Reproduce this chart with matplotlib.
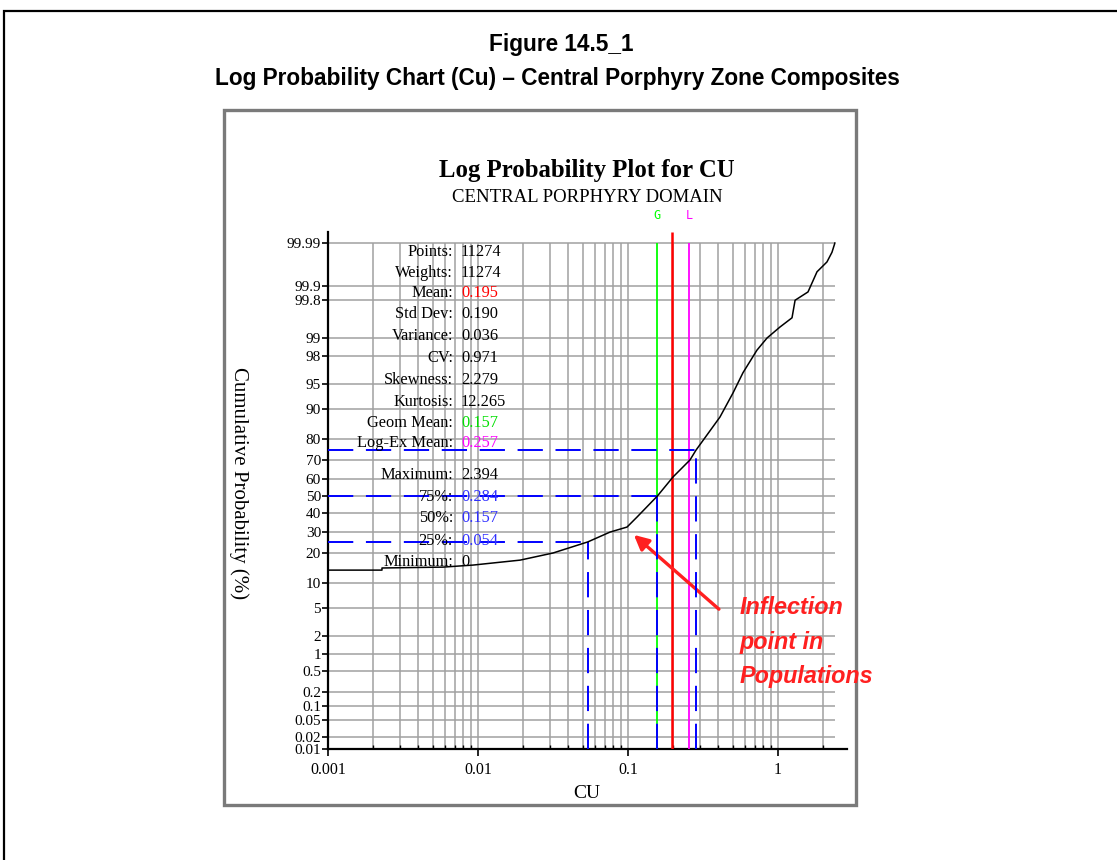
import math
import numpy as np
import matplotlib
matplotlib.use("Agg")
import matplotlib.pyplot as plt
from matplotlib.patches import Rectangle
from matplotlib.ticker import FixedLocator, FixedFormatter, NullLocator, LogLocator, NullFormatter

# curve: CU grade vs cumulative probability (%)
cu = [0.001, 0.00229, 0.00229, 0.00585, 0.00927, 0.0191, 0.0316, 0.054, 0.0759,
      0.0985, 0.115, 0.157, 0.1995, 0.259, 0.284, 0.410, 0.501, 0.584, 0.724,
      0.845, 1.03, 1.24, 1.30, 1.585, 1.82, 2.12, 2.29, 2.394]
prob = [13.8, 13.8, 14.5, 14.8, 15.5, 17.3, 20.1, 25.0, 29.8,
        32.4, 37.9, 50.0, 61.0, 70.2, 75.0, 87.7, 93.5, 96.5, 98.4,
        98.99, 99.35, 99.56, 99.80, 99.865, 99.951, 99.971, 99.983, 99.99]

mean_cu = 0.195
geom_mean = 0.157
logex_mean = 0.257
pct_levels = [75, 50, 25]
pct_values = [0.284, 0.157, 0.054]
max_cu = 2.394

y_ticks = [0.01, 0.02, 0.05, 0.1, 0.2, 0.5, 1, 2, 5, 10, 20, 30, 40, 50, 60, 70,
           80, 90, 95, 98, 99, 99.8, 99.9, 99.99]
y_labels = ["0.01", "0.02", "0.05", "0.1", "0.2", "0.5", "1", "2", "5", "10", "20",
            "30", "40", "50", "60", "70", "80", "90", "95", "98", "99", "99.8",
            "99.9", "99.99"]
x_ticks = [0.001, 0.01, 0.1, 1]
x_labels = ["0.001", "0.01", "0.1", "1"]

stat_names = ["Points:", "Weights:", "Mean:", "Std Dev:", "Variance:", "CV:",
              "Skewness:", "Kurtosis:", "Geom Mean:", "Log-Ex Mean:", "Maximum:",
              "75%:", "50%:", "25%:", "Minimum:"]
stat_values = ["11274", "11274", "0.195", "0.190", "0.036", "0.971", "2.279",
               "12.265", "0.157", "0.257", "2.394", "0.284", "0.157", "0.054", "0"]
stat_colors = ["black", "black", "#ff0000", "black", "black", "black", "black",
               "black", "#00e000", "#ff00ff", "black", "#3030ff", "#3030ff",
               "#3030ff", "black"]
stat_rows_px = [252, 273, 293, 314, 336, 358, 380, 402, 423, 443, 475, 497, 518, 541, 562]


def norm_ppf(p):
    p = np.clip(np.asarray(p, dtype=float), 1e-9, 1 - 1e-9)
    a = [-3.969683028665376e+01, 2.209460984245205e+02, -2.759285104469687e+02,
         1.383577518672690e+02, -3.066479806614716e+01, 2.506628277459239e+00]
    b = [-5.447609879822406e+01, 1.615858368580409e+02, -1.556989798598866e+02,
         6.680131188771972e+01, -1.328068155288572e+01]
    c = [-7.784894002430293e-03, -3.223964580411365e-01, -2.400758277161838e+00,
         -2.549732539343734e+00, 4.374664141464968e+00, 2.938163982698783e+00]
    d = [7.784695709041462e-03, 3.224671290700398e-01, 2.445134137142996e+00,
         3.754408661907416e+00]
    plow = 0.02425
    out = np.empty_like(p)
    lo = p < plow
    hi = p > 1 - plow
    mid = ~(lo | hi)
    q = np.sqrt(-2 * np.log(p[lo]))
    out[lo] = (((((c[0]*q+c[1])*q+c[2])*q+c[3])*q+c[4])*q+c[5]) / ((((d[0]*q+d[1])*q+d[2])*q+d[3])*q+1)
    q = p[mid] - 0.5
    r = q * q
    out[mid] = (((((a[0]*r+a[1])*r+a[2])*r+a[3])*r+a[4])*r+a[5])*q / (((((b[0]*r+b[1])*r+b[2])*r+b[3])*r+b[4])*r+1)
    q = np.sqrt(-2 * np.log(1 - p[hi]))
    out[hi] = -(((((c[0]*q+c[1])*q+c[2])*q+c[3])*q+c[4])*q+c[5]) / ((((d[0]*q+d[1])*q+d[2])*q+d[3])*q+1)
    return out


_erf = np.frompyfunc(math.erf, 1, 1)


def forward(y):
    return norm_ppf(np.asarray(y, dtype=float) / 100.0)


def inverse(z):
    z = np.asarray(z, dtype=float)
    return 50.0 * (1.0 + _erf(z / math.sqrt(2)).astype(float))


W, H = 1117, 860
fig = plt.figure(figsize=(W / 100, H / 100), dpi=100)


def fx(px):
    return px / W


def fy(py):
    return 1 - py / H


# outer page frame and the inner chart box
fig.patches.append(Rectangle((fx(4), -0.2), 2, fy(11) + 0.2, transform=fig.transFigure,
                             fill=False, edgecolor="black", lw=1.6))
fig.patches.append(Rectangle((fx(224), fy(805)), fx(856) - fx(224), fy(110) - fy(805),
                             transform=fig.transFigure, fill=False, edgecolor="#7a7a7a", lw=2.4))

fig.text(fx(561), fy(45), "Figure 14.5_1", ha="center", va="center",
         fontsize=16.3, fontweight="bold", family="Liberation Sans")
fig.text(fx(557), fy(78), "Log Probability Chart (Cu) \u2013 Central Porphyry Zone Composites",
         ha="center", va="center", fontsize=16.3, fontweight="bold", family="Liberation Sans")

serif = "Liberation Serif"
fig.text(fx(587), fy(170), "Log Probability Plot for CU", ha="center", va="center",
         fontsize=17.8, fontweight="bold", family=serif)
fig.text(fx(587), fy(198), "CENTRAL PORPHYRY DOMAIN", ha="center", va="center",
         fontsize=13.5, family=serif)

xmax = 10 ** ((847 - 328) / 150 - 3)
ytop = 99.9948
ax = fig.add_axes([fx(328), fy(749), fx(847) - fx(328), fy(232) - fy(749)])
ax.set_xscale("log")
ax.set_yscale("function", functions=(forward, inverse))
ax.set_xlim(0.001, xmax)
ax.set_ylim(0.01, ytop)

# grid drawn by hand so it stops at the data range
grid_x = [m * 10.0 ** e for e in range(-3, 0) for m in range(1, 10)] + [1, 2]
ax.vlines(grid_x, 0.01, 99.99, colors="#a0a0a0", lw=1.1, zorder=1)
ax.hlines(y_ticks, 0.001, max_cu, colors="#a0a0a0", lw=1.1, zorder=1)

for s in ["top", "right"]:
    ax.spines[s].set_visible(False)
for s in ["left", "bottom"]:
    ax.spines[s].set_linewidth(1.6)

ax.yaxis.set_major_locator(FixedLocator(y_ticks))
ax.yaxis.set_major_formatter(FixedFormatter(y_labels))
ax.yaxis.set_minor_locator(NullLocator())
ax.xaxis.set_major_locator(FixedLocator(x_ticks))
ax.xaxis.set_major_formatter(FixedFormatter(x_labels))
ax.xaxis.set_minor_locator(LogLocator(base=10, subs=np.arange(2, 10)))
ax.xaxis.set_minor_formatter(NullFormatter())
ax.tick_params(axis="y", direction="out", length=4, width=1.2, pad=1, labelsize=11)
ax.tick_params(axis="x", which="major", direction="out", length=5, width=1.2, pad=4, labelsize=11.5)
ax.tick_params(axis="x", which="minor", direction="in", length=3, width=1)
for lab in ax.get_xticklabels() + ax.get_yticklabels():
    lab.set_family(serif)

# reference lines
blue = "#0000ff"
ax.vlines(geom_mean, 0.01, 99.99, colors="#00ff00", lw=1.3, zorder=3)
ax.vlines(logex_mean, 0.01, 99.99, colors="#ff00ff", lw=1.3, zorder=3)
ax.vlines(mean_cu, 0.01, ytop, colors="#ff0000", lw=1.8, zorder=3)
for lev, val in zip(pct_levels, pct_values):
    ax.plot([0.001, val], [lev, lev], color=blue, lw=1.4, dashes=(13, 6.5), zorder=4)
    ax.plot([val, val], [0.01, lev], color=blue, lw=1.4, dashes=(13, 6.5), zorder=4)

ax.plot(cu, prob, color="black", lw=1.1, zorder=5)

xt = ax.get_xaxis_transform()
ax.text(geom_mean, 1.02, "G", transform=xt, color="#00ff00", ha="center", va="bottom",
        fontsize=8.5, family="DejaVu Sans Mono")
ax.text(logex_mean, 1.02, "L", transform=xt, color="#ff00ff", ha="center", va="bottom",
        fontsize=8.5, family="DejaVu Sans Mono")

# statistics block
for name, val, col, row in zip(stat_names, stat_values, stat_colors, stat_rows_px):
    fig.text(fx(453), fy(row), name, ha="right", va="center", fontsize=11.8, family=serif, zorder=6)
    fig.text(fx(461), fy(row), val, ha="left", va="center", fontsize=11.8, family=serif,
             color=col, zorder=6)

fig.text(fx(239), fy(483), "Cumulative Probability (%)", rotation=-90, ha="center",
         va="center", fontsize=15, family=serif)
fig.text(fx(587), fy(794), "CU", ha="center", va="center", fontsize=14, family=serif)

# annotation
ax.annotate("", xy=(0.106, 29.3), xycoords="data", xytext=(721, H - 611),
            textcoords="figure pixels",
            arrowprops=dict(arrowstyle="-|>", color="#ff2020", lw=2.4, mutation_scale=22))
for i, line in enumerate(["Inflection", "point in", "Populations"]):
    fig.text(fx(740), fy(607 + 35 * i), line, ha="left", va="center", fontsize=16.8,
             fontweight="bold", fontstyle="italic", color="#ff2020", family="Liberation Sans")

fig.savefig("out.png", dpi=100)
